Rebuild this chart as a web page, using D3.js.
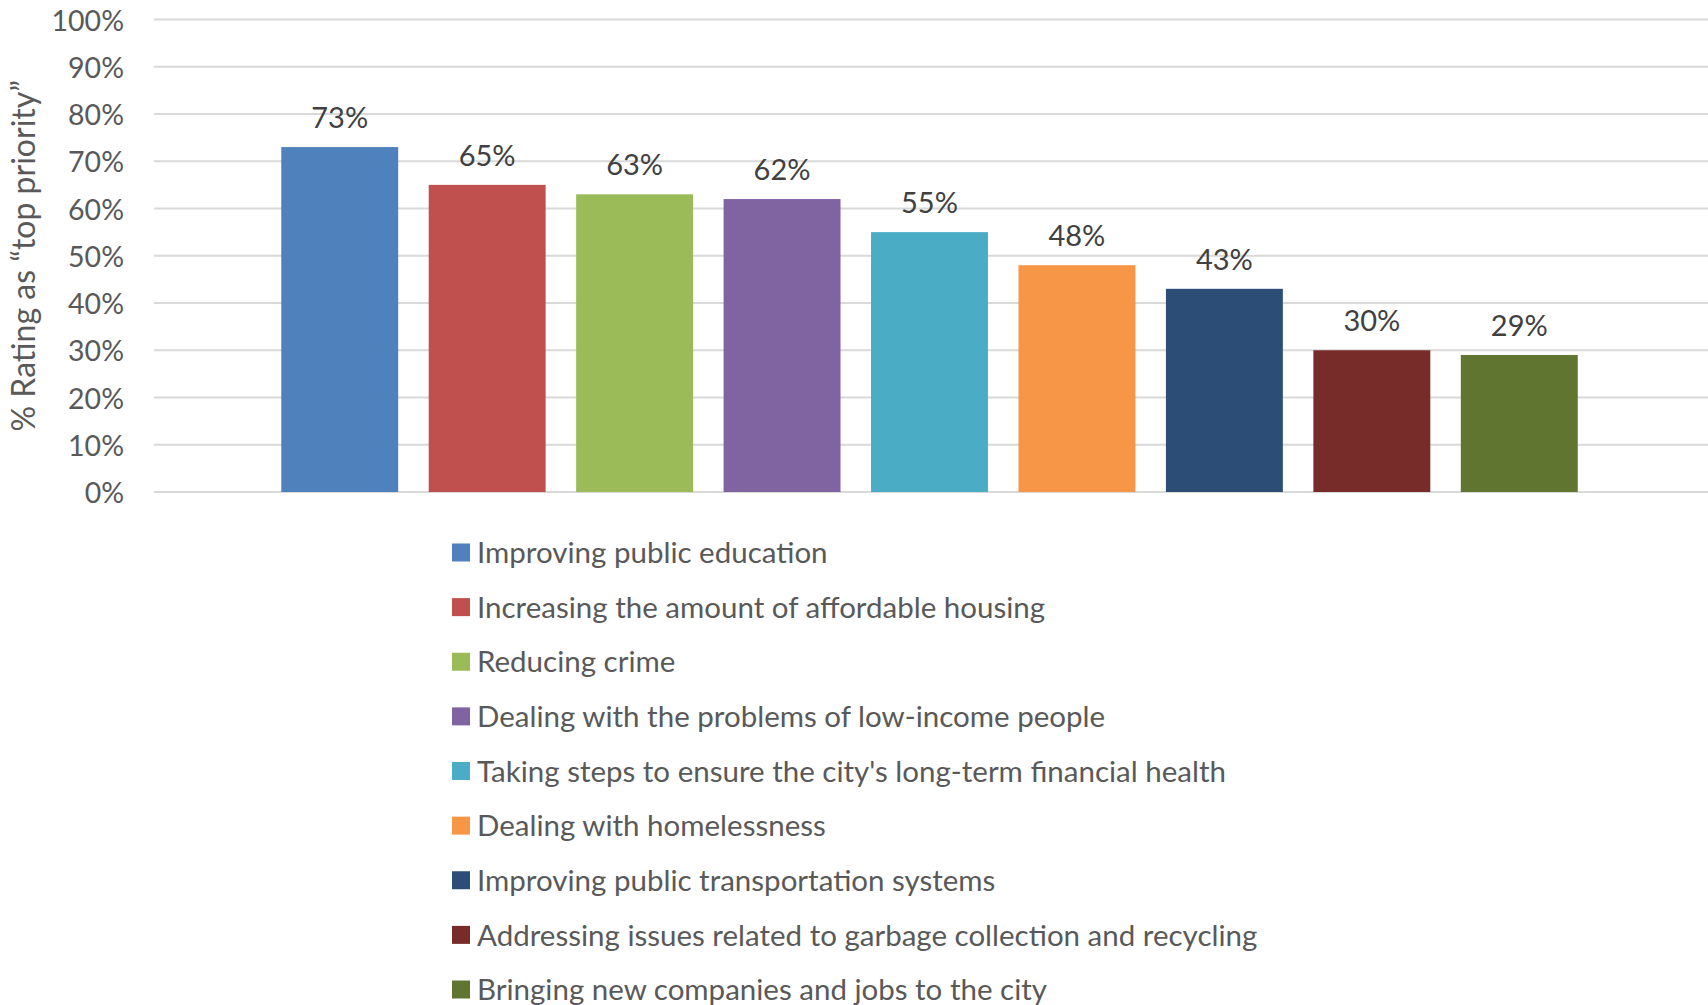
<!DOCTYPE html>
<html>
<head>
<meta charset="utf-8">
<script src="https://cdn.jsdelivr.net/npm/d3@7"></script>
<style>
  body { margin: 0; background: #fff; }
  text { font-family: Lato, "Open Sans", sans-serif; }
</style>
</head>
<body>
<script>
var width = 1708,
    height = 1005;

var priorities = [
    "Improving public education",
    "Increasing the amount of affordable housing",
    "Reducing crime",
    "Dealing with the problems of low-income people",
    "Taking steps to ensure the city's long-term financial health",
    "Dealing with homelessness",
    "Improving public transportation systems",
    "Addressing issues related to garbage collection and recycling",
    "Bringing new companies and jobs to the city"
];
var topPriority = [73, 65, 63, 62, 55, 48, 43, 30, 29];
var barColors = ["#4f81bd", "#c0504d", "#9bbb59", "#8064a2", "#4bacc6",
                 "#f79646", "#2c4d75", "#772c2a", "#5f7530"];
var yTicks = [0, 10, 20, 30, 40, 50, 60, 70, 80, 90, 100];

var plot = {left: 154, right: 1708, top: 19.5, bottom: 492};

var svg = d3.select("body").append("svg")
    .attr("width", width)
    .attr("height", height);

var y = d3.scaleLinear()
    .domain([0, 100])
    .range([plot.bottom, plot.top]);

// one category, nine series: bars sit in the middle of the plot
var x = d3.scaleBand()
    .domain(priorities)
    .range([266, 1593])
    .paddingInner(0.207)
    .paddingOuter(0.1035);

// gridlines
svg.append("g")
    .selectAll("line")
    .data(yTicks)
    .enter().append("line")
    .attr("x1", plot.left)
    .attr("x2", plot.right)
    .attr("y1", function (d) { return y(d); })
    .attr("y2", function (d) { return y(d); })
    .attr("stroke", "#d9d9d9")
    .attr("stroke-width", 2);

// y axis labels
var yAxis = d3.axisLeft(y)
    .tickValues(yTicks)
    .tickSize(0)
    .tickPadding(0)
    .tickFormat(function (d) { return d + "%"; });

var yg = svg.append("g")
    .attr("transform", "translate(" + 124 + ",0)")
    .call(yAxis);
yg.select(".domain").remove();
yg.selectAll("text")
    .attr("font-family", "Lato, sans-serif")
    .attr("font-size", 28.5)
    .attr("fill", "#595959")
    .attr("dy", "0.37em");

// axis title
svg.append("text")
    .attr("transform", "translate(" + 35 + "," + ((plot.top + plot.bottom) / 2) + ") rotate(-90)")
    .attr("text-anchor", "middle")
    .attr("font-size", 32)
    .attr("fill", "#595959")
    .text("% Rating as \u201ctop priority\u201d");

// bars
svg.append("g")
    .selectAll("rect")
    .data(priorities)
    .enter().append("rect")
    .attr("x", function (d) { return x(d); })
    .attr("width", x.bandwidth())
    .attr("y", function (d, i) { return y(topPriority[i]); })
    .attr("height", function (d, i) { return plot.bottom - y(topPriority[i]); })
    .attr("fill", function (d, i) { return barColors[i]; });

// data labels
svg.append("g")
    .selectAll("text")
    .data(priorities)
    .enter().append("text")
    .attr("x", function (d) { return x(d) + x.bandwidth() / 2; })
    .attr("y", function (d, i) { return y(topPriority[i]) - 19; })
    .attr("text-anchor", "middle")
    .attr("font-size", 29)
    .attr("fill", "#404040")
    .text(function (d, i) { return topPriority[i] + "%"; });

// legend
var legendRow = d3.scalePoint()
    .domain(priorities)
    .range([552.5, 989.5]);

var legend = svg.append("g")
    .selectAll("g")
    .data(priorities)
    .enter().append("g")
    .attr("transform", function (d) { return "translate(452," + legendRow(d) + ")"; });

legend.append("rect")
    .attr("x", 0)
    .attr("y", -9)
    .attr("width", 18)
    .attr("height", 18)
    .attr("fill", function (d, i) { return barColors[i]; });

legend.append("text")
    .attr("x", 25)
    .attr("dy", "0.36em")
    .attr("font-size", 29.5)
    .attr("fill", "#595959")
    .text(function (d) { return d; });
</script>
</body>
</html>
